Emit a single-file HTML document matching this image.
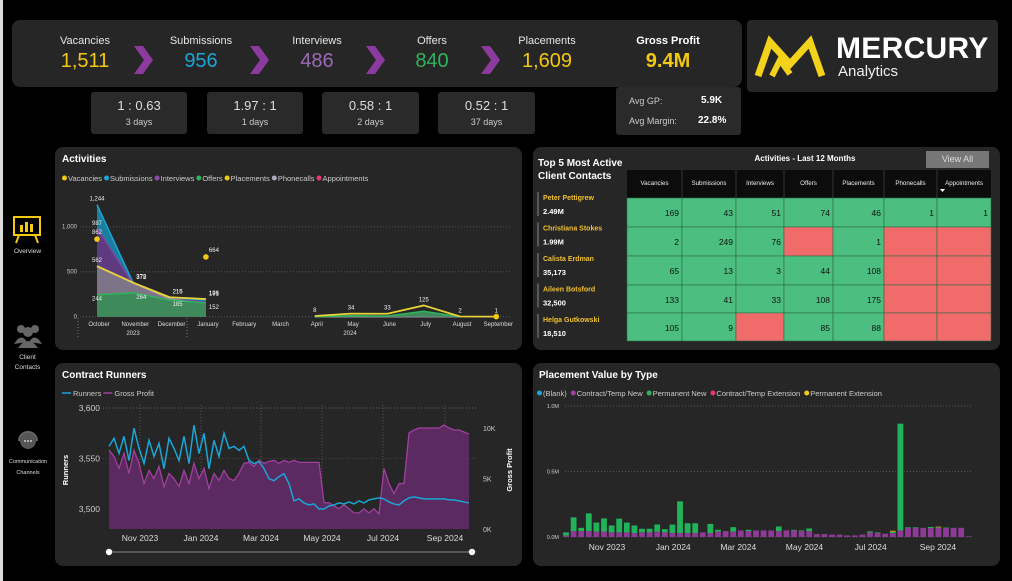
<!DOCTYPE html>
<html><head><meta charset="utf-8">
<style>
*{margin:0;padding:0;box-sizing:border-box}
body{width:1012px;height:581px;background:#000;font-family:"Liberation Sans",sans-serif;color:#fff;position:relative;overflow:hidden}
.abs{position:absolute}
.panel{position:absolute;background:#262626;border-radius:8px}
.box{position:absolute;background:#2a2a2a;border-radius:3px;text-align:center}
.kl{position:absolute;font-size:11px;color:#e6e6e6;text-align:center;width:100px}
.kv{position:absolute;font-size:20px;text-align:center;width:100px}
.ptitle{position:absolute;font-size:10px;font-weight:bold;color:#fff}
</style></head><body>
<div class="abs" style="left:0;top:0;width:3px;height:581px;background:#dcdcdc"></div>

<div class="panel" style="left:12px;top:20px;width:730px;height:67px"></div>
<div class="kl" style="left:35px;top:35px">Vacancies</div>
<div class="kv" style="left:35px;top:50px;color:#f2c811">1,511</div>
<div class="kl" style="left:151px;top:35px">Submissions</div>
<div class="kv" style="left:151px;top:50px;color:#1aa6d6">956</div>
<div class="kl" style="left:267px;top:35px">Interviews</div>
<div class="kv" style="left:267px;top:50px;color:#9a6ab5">486</div>
<div class="kl" style="left:382px;top:35px">Offers</div>
<div class="kv" style="left:382px;top:50px;color:#2fb35d">840</div>
<div class="kl" style="left:497px;top:35px">Placements</div>
<div class="kv" style="left:497px;top:50px;color:#f2c811">1,609</div>
<div class="kl" style="left:618px;top:35px;font-weight:bold;color:#fff">Gross Profit</div>
<div class="kv" style="left:618px;top:50px;color:#f2c811;font-weight:bold">9.4M</div>

<svg class="abs" style="left:0;top:0" width="1012" height="100">
<g fill="#8d3a9f">
<polygon points="134,46 143,46 153,60 143,74 134,74 144,60"/>
<polygon points="250,46 259,46 269,60 259,74 250,74 260,60"/>
<polygon points="366,46 375,46 385,60 375,74 366,74 376,60"/>
<polygon points="481,46 490,46 500,60 490,74 481,74 491,60"/>
</g></svg>

<div class="box" style="left:91px;top:92px;width:96px;height:42px"><div style="font-size:13px;margin-top:6px;color:#ddd">1 : 0.63</div><div style="font-size:9px;color:#ccc;margin-top:4px">3 days</div></div>
<div class="box" style="left:207px;top:92px;width:96px;height:42px"><div style="font-size:13px;margin-top:6px;color:#ddd">1.97 : 1</div><div style="font-size:9px;color:#ccc;margin-top:4px">1 days</div></div>
<div class="box" style="left:322px;top:92px;width:97px;height:42px"><div style="font-size:13px;margin-top:6px;color:#ddd">0.58 : 1</div><div style="font-size:9px;color:#ccc;margin-top:4px">2 days</div></div>
<div class="box" style="left:438px;top:92px;width:97px;height:42px"><div style="font-size:13px;margin-top:6px;color:#ddd">0.52 : 1</div><div style="font-size:9px;color:#ccc;margin-top:4px">37 days</div></div>
<div class="box" style="left:616px;top:87px;width:125px;height:48px;text-align:left">
<div style="position:absolute;left:13px;top:9px;font-size:9px;color:#ccc">Avg GP:</div><div style="position:absolute;left:85px;top:8px;font-size:10px;font-weight:bold">5.9K</div>
<div style="position:absolute;left:13px;top:29px;font-size:9px;color:#ccc">Avg Margin:</div><div style="position:absolute;left:82px;top:28px;font-size:10px;font-weight:bold">22.8%</div></div>

<div class="panel" style="left:747px;top:20px;width:251px;height:72px;border-radius:4px"></div>
<svg class="abs" style="left:750px;top:30px" width="85" height="55">
<polyline points="8,46 20,12 40,34 60,12 72,46" fill="none" stroke="#f2d21b" stroke-width="7" stroke-linejoin="miter"/>
<polyline points="22,46 30,30 40,44" fill="none" stroke="#f2d21b" stroke-width="6"/>
</svg>
<div class="abs" style="left:836px;top:32px;font-size:30px;font-weight:bold;letter-spacing:0.3px">MERCURY</div>
<div class="abs" style="left:838px;top:63px;font-size:15px;color:#eee">Analytics</div>

<svg class="abs" style="left:12px;top:214px" width="32" height="32">
<rect x="2" y="3" width="26" height="18" fill="none" stroke="#f2c811" stroke-width="2"/>
<rect x="8" y="11" width="3" height="7" fill="#f2c811"/><rect x="13" y="8" width="3" height="10" fill="#f2c811"/><rect x="18" y="10" width="3" height="8" fill="#f2c811"/>
<line x1="7" y1="21" x2="4" y2="29" stroke="#f2c811" stroke-width="2"/><line x1="23" y1="21" x2="26" y2="29" stroke="#f2c811" stroke-width="2"/>
</svg>
<div class="abs" style="left:5px;top:248px;width:45px;text-align:center;font-size:6.5px;color:#ddd">Overview</div>
<svg class="abs" style="left:13px;top:322px" width="30" height="26">
<g fill="#666"><circle cx="8" cy="7" r="4"/><circle cx="22" cy="7" r="4"/><circle cx="15" cy="10" r="5"/><path d="M1,22 Q8,10 14,20Z"/><path d="M29,22 Q22,10 16,20Z"/><path d="M5,26 Q15,12 25,26Z"/></g></svg>
<div class="abs" style="left:5px;top:353px;width:45px;text-align:center;font-size:6.5px;color:#ddd;line-height:10px">Client<br>Contacts</div>
<svg class="abs" style="left:15px;top:430px" width="26" height="24">
<circle cx="13" cy="11" r="8" fill="#555"/><path d="M4,11 A9,9 0 0 1 22,11" fill="none" stroke="#666" stroke-width="2"/>
<circle cx="10" cy="11" r="1" fill="#ccc"/><circle cx="13" cy="11" r="1" fill="#ccc"/><circle cx="16" cy="11" r="1" fill="#ccc"/></svg>
<div class="abs" style="left:0px;top:457px;width:56px;text-align:center;font-size:5.5px;color:#ddd;line-height:11px">Communication<br>Channels</div>

<div class="panel" style="left:55px;top:147px;width:467px;height:203px"></div>
<div class="panel" style="left:533px;top:147px;width:467px;height:203px"></div>
<div class="panel" style="left:55px;top:363px;width:467px;height:203px"></div>
<div class="panel" style="left:533px;top:363px;width:467px;height:203px"></div>

<div class="ptitle" style="left:62px;top:154px">Activities</div>
<div class="ptitle" style="left:62px;top:370px">Contract Runners</div>
<div class="ptitle" style="left:539px;top:370px">Placement Value by Type</div>
<div class="ptitle" style="left:538px;top:157px;line-height:13px">Top 5 Most Active<br>Client Contacts</div>
<div class="abs" style="left:700px;top:154px;width:210px;text-align:center;font-size:8px;font-weight:bold">Activities - Last 12 Months</div>
<div class="abs" style="left:926px;top:151px;width:63px;height:17px;background:#777;color:#ddd;font-size:9px;text-align:center;line-height:17px">View All</div>

<svg id="svg" class="abs" style="left:0;top:0" width="1012" height="581"></svg>

<script>
const actMonths=["October","November","December","January","February","March","April","May","June","July","August","September"];
const actSubmissions=[1244,372,215,191,null,null,0,8,3,40,0,null];
const actInterviews=[987,360,200,160,null,null,0,4,2,20,0,null];
const actPhonecalls=[562,372,200,140,null,null,0,0,0,0,0,null];
const actOffers=[244,264,185,152,null,null,0,10,8,60,0,null];
const actPlacements=[562,378,216,196,null,null,8,34,33,125,2,1];
const actVacancies=[862,null,null,664,null,null,null,null,null,null,null,1];
const actTicks=[0,500,1000];
const actTickLabels=["0","500","1,000"];
const contactNames=["Peter Pettigrew","Christiana Stokes","Calista Erdman","Aileen Botsford","Helga Gutkowski"];
const contactValues=["2.49M","1.99M","35,173","32,500","18,510"];
const tableCols=["Vacancies","Submissions","Interviews","Offers","Placements","Phonecalls","Appointments"];
const tableRows=[[169,43,51,74,46,1,1],[2,249,76,null,1,null,null],[65,13,3,44,108,null,null],[133,41,33,108,175,null,null],[105,9,null,85,88,null,null]];
const runners=[3562,3570,3555,3572,3548,3580,3560,3545,3568,3552,3565,3540,3570,3560,3548,3572,3545,3583,3555,3575,3540,3568,3552,3575,3560,3562,3558,3562,3548,3545,3547,3540,3530,3528,3532,3535,3525,3508,3510,3506,3504,3505,3500,3500,3503,3504,3506,3505,3507,3505,3508,3506,3509,3510,3511,3510,3507,3505,3504,3508,3511,3512,3511,3510,3510,3510,3510,3510,3509,3509,3508,3507,3506];
const grossProfitK=[7.8,7.2,6.0,7.5,5.5,7.8,6.5,4.5,5.8,5.0,6.2,4.2,5.5,5.0,4.2,5.8,4.5,6.5,5.0,6.0,4.0,5.5,4.8,5.8,5.0,4.8,5.5,6.5,6.6,6.2,6.8,6.5,6.7,6.8,6.5,6.8,6.6,6.8,6.6,6.6,6.6,6.6,6.6,2.6,2.6,2.3,2.0,2.4,2.0,1.6,1.6,2.0,1.6,2.0,1.5,6.0,4.5,3.5,4.5,4.5,9.5,9.8,10,10,10,10,10,10.3,10,9.8,9.8,9.6,9.4];
const runTicks=[3500,3550,3600];
const gpTicks=[0,5,10];
const monthTickLabels=["Nov 2023","Jan 2024","Mar 2024","May 2024","Jul 2024","Sep 2024"];
const monthTickDays=[31,92,152,213,274,336];
const placeTotal=[35,150,70,180,110,142,88,140,110,88,63,63,95,60,95,272,105,105,35,100,55,45,75,50,55,50,50,50,80,50,55,50,65,22,22,18,18,12,12,18,43,35,25,40,865,75,75,70,77,73,72,70,70,5];
const placeContract=[10,45,45,45,40,40,35,35,35,30,35,35,40,35,30,30,30,30,35,30,40,45,40,50,45,50,50,50,45,50,50,45,45,22,22,18,18,12,12,18,35,30,25,30,50,70,70,70,68,70,68,70,70,5];
const placeExtension=[0,0,0,0,0,0,0,0,0,0,0,0,0,0,0,0,0,0,0,0,0,0,0,0,0,0,0,0,0,0,0,0,0,0,0,0,0,0,0,0,0,0,0,8,0,0,0,0,0,6,0,0,0,0];
const placeTicks=[0,0.5,1.0];
const placeTickLabels=["0.0M","0.5M","1.0M"];

const S=document.getElementById('svg');const NS="http://www.w3.org/2000/svg";
function mk(tag,attrs,parent){const e=document.createElementNS(NS,tag);for(const k in attrs)e.setAttribute(k,attrs[k]);(parent||S).appendChild(e);return e;}
function txt(x,y,s,size,fill,anchor,weight){const t=mk('text',{x:x,y:y,'font-size':size,fill:fill,'text-anchor':anchor||'start','font-family':'Liberation Sans, sans-serif','font-weight':weight||'normal'});t.textContent=s;return t;}

function legend(items,x,y,gap){let cx=x;items.forEach(it=>{const g=mk('g',{});


if(it.line){mk('line',{x1:cx,y1:y-3,x2:cx+9,y2:y-3,stroke:it.c,'stroke-width':1.5},g);cx+=11;}else{mk('circle',{cx:cx+2.5,cy:y-3,r:2.5,fill:it.c},g);cx+=6;}
const t=txt(cx,y,it.n,7.5,'#ccc');g.appendChild(t);cx+=t.getComputedTextLength()+gap;});}

const ax=i=>97+i*36.3, ay=v=>316.7-v*0.09;
legend([{n:"Vacancies",c:"#f2c811"},{n:"Submissions",c:"#1aa6d6"},{n:"Interviews",c:"#8e4aa8"},{n:"Offers",c:"#2fb35d"},{n:"Placements",c:"#f2c811"},{n:"Phonecalls",c:"#b0a8b8"},{n:"Appointments",c:"#e8347a"}],62,181,2);
actTicks.forEach((t,i)=>{const l=mk('line',{x1:80,x2:510,y1:ay(t),y2:ay(t),stroke:'#555','stroke-dasharray':'1,2'});


txt(77,ay(t)+2,actTickLabels[i],6,'#ccc','end');});
function seg(arr){const out=[];let cur=[];arr.forEach((v,i)=>{if(v==null){if(cur.length)out.push(cur);cur=[];}else cur.push([ax(i),ay(v)]);});if(cur.length)out.push(cur);return out;}
function area(arr,fill,stroke,name){seg(arr).forEach(s=>{if(s.length<2)return;const d="M"+s.map(p=>p.join(',')).join("L")+"L"+s[s.length-1][0]+","+ay(0)+"L"+s[0][0]+","+ay(0)+"Z";
const a=mk('path',{d:d,fill:fill,stroke:'none'});


const l=mk('polyline',{points:s.map(p=>p.join(',')).join(' '),fill:'none',stroke:stroke,'stroke-width':1.5});

});}
area(actSubmissions,'#1a7ea0','#1aa6d6','submissions');
area(actInterviews,'#5e3a80','#7d45a0','interviews');
area(actPhonecalls,'#7d7587','#9d95a7','phonecalls');
area(actOffers,'#3f8a5a','#2fb35d','offers');
seg(actPlacements).forEach(s=>{const l=mk('polyline',{points:s.map(p=>p.join(',')).join(' '),fill:'none',stroke:'#e8d23a','stroke-width':1.8});

});
actVacancies.forEach((v,i)=>{if(v==null)return;const c=mk('circle',{cx:ax(i),cy:ay(v),r:2.8,fill:'#f2c811'});

});
const lblSets=[[actSubmissions,[0,1,2,3],-4],[actInterviews,[0],-3],[actVacancies,[0,3],-5],[actPlacements,[0,1,2,3,6,7,8,9,10,11],-4],[actOffers,[0,1,2,3],6]];
lblSets.forEach(([arr,idx,dy])=>idx.forEach(i=>{if(arr[i]!=null)txt(ax(i)+(i<4&&i>0?8:0),ay(arr[i])+dy,arr[i].toLocaleString('en-US'),6,'#eee','middle');}));
mk('line',{x1:78,y1:318,x2:78,y2:338,stroke:'#777','stroke-dasharray':'1,2'});
mk('line',{x1:187,y1:318,x2:187,y2:338,stroke:'#777','stroke-dasharray':'1,2'});
actMonths.forEach((m,i)=>txt(ax(i)+2,326,m,6,'#ddd','middle'));
txt(133,335,"2023",6,'#ddd','middle');txt(350,335,"2024",6,'#ddd','middle');

const colX=[627,682,736,784,833,884,937,991], rowY=[198,227,256,285,313,341];
mk('rect',{x:627,y:170,width:364,height:28,fill:'#0c0c0c'});
tableCols.forEach((c,j)=>{txt((colX[j]+colX[j+1])/2,185,c,6.2,'#eee','middle');if(j>0)mk('line',{x1:colX[j],x2:colX[j],y1:170,y2:198,stroke:'#333'});});
mk('polygon',{points:"940,189 945,189 942.5,192",fill:'#fff'});
tableRows.forEach((r,i)=>r.forEach((v,j)=>{const c=mk('rect',{x:colX[j],y:rowY[i],width:colX[j+1]-colX[j],height:rowY[i+1]-rowY[i],fill:v==null?'#f26b6b':'#4cbf80',stroke:'#2a6a45','stroke-width':0.6});


if(v!=null)txt(colX[j+1]-3,rowY[i]+18,String(v),8.5,'#111','end');}));
contactNames.forEach((n,i)=>{const y=200+i*30.5;mk('line',{x1:538,x2:538,y1:y-8,y2:y+16,stroke:'#888','stroke-width':1});
const t=txt(543,y,n,7,'#f0c030','start','bold');


txt(543,y+14,contactValues[i],7.5,'#fff','start','bold');});

const rx=d=>109+d, ry=v=>509-(v-3500)*1.01, gy=v=>529-v*10.1;
legend([{n:"Runners",c:"#1aa6d6",line:1},{n:"Gross Profit",c:"#a040a0",line:1}],62,396,2);
mk('line',{x1:103,x2:478,y1:ry(3600),y2:ry(3600),stroke:'#666','stroke-dasharray':'1,2'});
mk('line',{x1:103,x2:478,y1:ry(3550),y2:ry(3550),stroke:'#444','stroke-dasharray':'1,2'});
monthTickDays.forEach(d=>mk('line',{x1:rx(d),x2:rx(d),y1:405,y2:529,stroke:'#555','stroke-dasharray':'1,2'}));
const gpPts=grossProfitK.map((v,i)=>[rx(i*5),gy(v)]);
const gpA=mk('path',{d:"M"+gpPts.map(p=>p.join(',')).join('L')+"L"+gpPts[gpPts.length-1][0]+",529L"+gpPts[0][0]+",529Z",fill:'#5a2a60'});


const gpL=mk('polyline',{points:gpPts.map(p=>p.join(',')).join(' '),fill:'none',stroke:'#a040a0','stroke-width':1.3});


const rL=mk('polyline',{points:runners.map((v,i)=>rx(i*5)+','+ry(v)).join(' '),fill:'none',stroke:'#1aa6d6','stroke-width':1.5});


runTicks.forEach(t=>txt(100,ry(t)+3,t.toLocaleString('en-US'),8.5,'#ccc','end'));
gpTicks.forEach(t=>txt(483,gy(t)+3,t+"K",7,'#ccc','start'));
const yt=txt(0,0,"Runners",7.5,'#fff','middle','bold');yt.setAttribute('transform','translate(68,470) rotate(-90)');
const yt2=txt(0,0,"Gross Profit",7.5,'#fff','middle','bold');yt2.setAttribute('transform','translate(512,470) rotate(-90)');
monthTickLabels.forEach((m,i)=>txt(rx(monthTickDays[i]),541,m,8.5,'#ddd','middle'));
mk('line',{x1:109,x2:472,y1:552,y2:552,stroke:'#666','stroke-width':1.5});
const h1=mk('circle',{cx:109,cy:552,r:3.2,fill:'#fff'});
const h2=mk('circle',{cx:472,cy:552,r:3.2,fill:'#fff'});

const px=i=>566+i*7.6, py=v=>537-v*0.131;
legend([{n:"(Blank)",c:"#1aa6d6"},{n:"Contract/Temp New",c:"#a040a0"},{n:"Permanent New",c:"#2fb35d"},{n:"Contract/Temp Extension",c:"#e8347a"},{n:"Permanent Extension",c:"#f2c811"}],537,396,4);
placeTicks.forEach((t,i)=>{mk('line',{x1:565,x2:972,y1:py(t*1000),y2:py(t*1000),stroke:'#555','stroke-dasharray':'1,2'});txt(559,py(t*1000)+2,placeTickLabels[i],5.5,'#ccc','end');});
placeTotal.forEach((tot,i)=>{const c=placeContract[i],e=placeExtension[i];
const g=mk('rect',{x:px(i)-2.9,y:py(tot),width:5.8,height:py(c)-py(tot),fill:'#22b35a'});


const p=mk('rect',{x:px(i)-2.9,y:py(c),width:5.8,height:537-py(c),fill:'#8e3a96'});


if(e>0){const y=mk('rect',{x:px(i)-2.9,y:py(tot+e),width:5.8,height:py(tot)-py(tot+e),fill:'#d9a520'});

}});
const pxd=d=>607+(d-31)*1.085;
monthTickLabels.forEach((m,i)=>txt(pxd(monthTickDays[i]),550,m,8.5,'#ddd','middle'));
</script>
</body></html>
